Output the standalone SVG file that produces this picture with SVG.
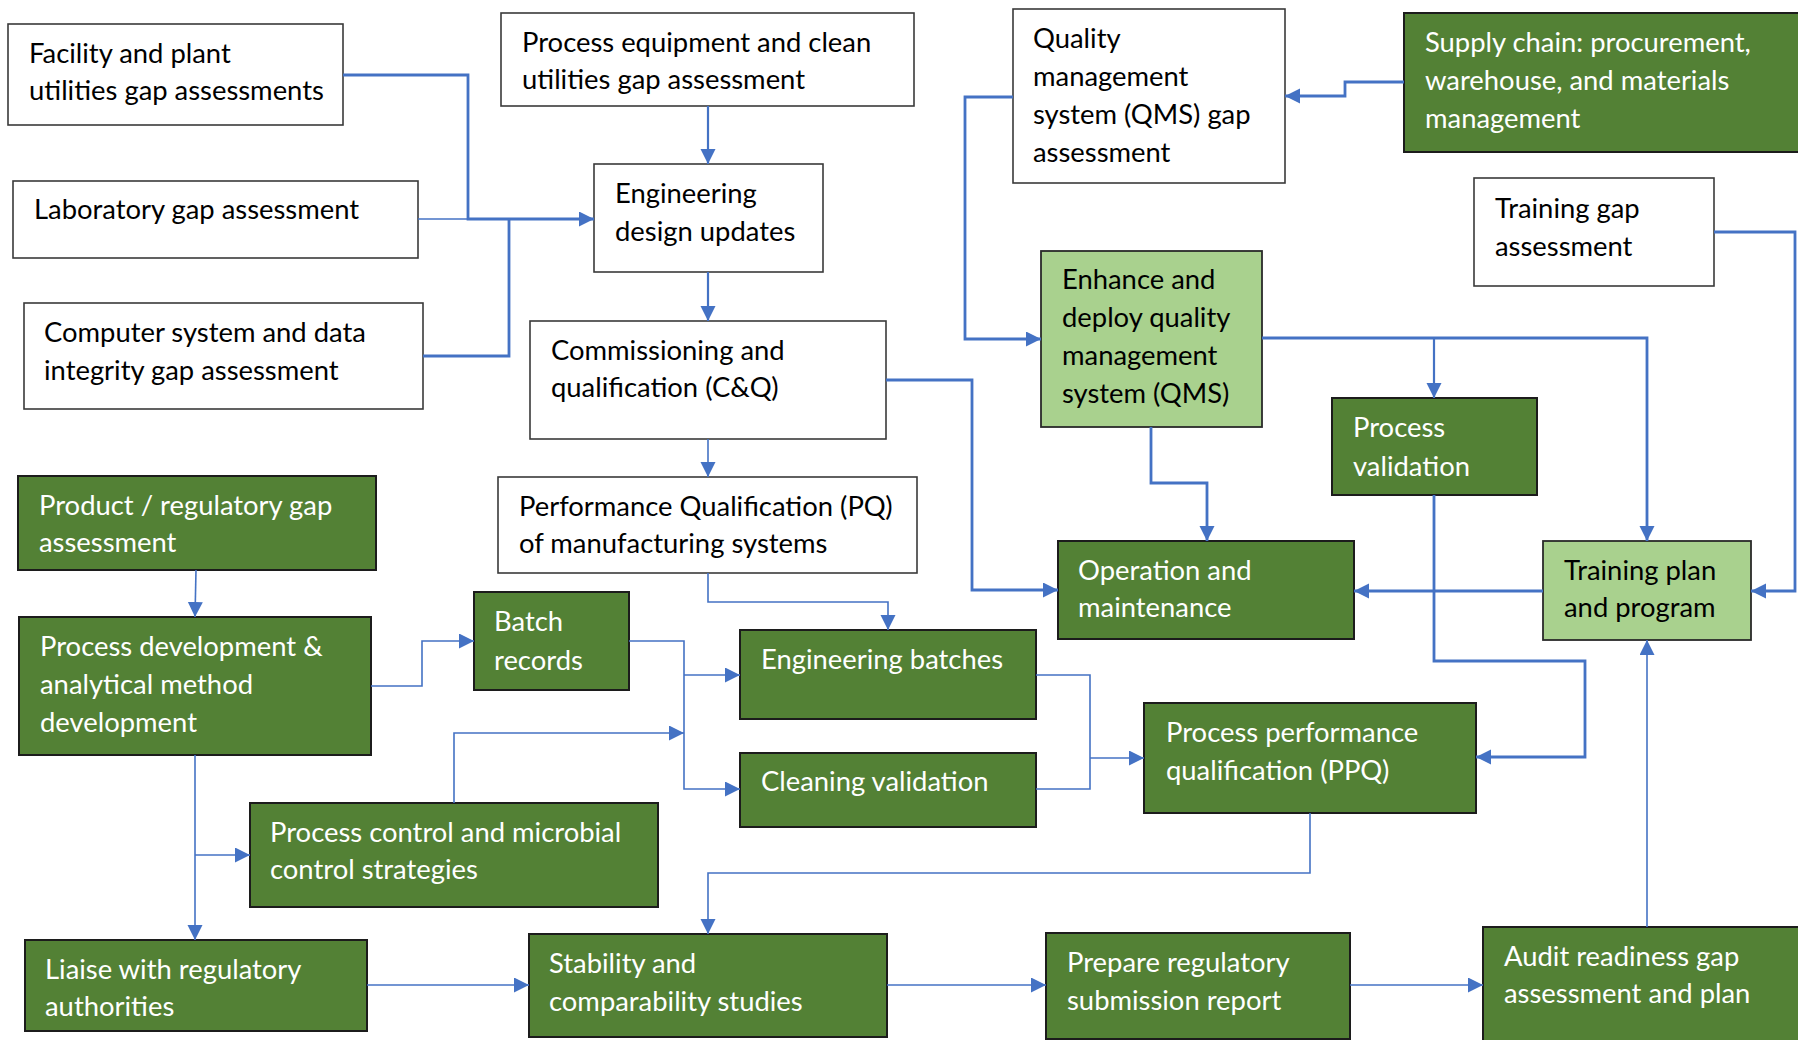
<svg xmlns="http://www.w3.org/2000/svg" width="1798" height="1040" viewBox="0 0 1798 1040">
  <style>
    .bw { fill: #ffffff; stroke: #3a3a3a; stroke-width: 1.6; }
    .bd { fill: #538135; stroke: #1c1c1c; stroke-width: 2; }
    .bl { fill: #a9d18e; stroke: #2a2a2a; stroke-width: 1.8; }
    text { font-family: Lato, "Open Sans", "Liberation Sans", sans-serif; font-size: 27.4px; fill: #000000; }
    .wt { fill: #ffffff; }
    .c { fill: none; stroke: #4472c4; stroke-linejoin: miter; }
    .k { stroke-width: 2.8; }
    .n { stroke-width: 1.6; }
    .m { stroke-width: 2.2; }
  </style>
  <defs>
    <marker id="arr" markerUnits="userSpaceOnUse" markerWidth="16" markerHeight="16" refX="15" refY="7.5" orient="auto" viewBox="0 0 16 16">
      <path d="M0,0 L15,7.5 L0,15 Z" fill="#4472c4"/>
    </marker>
  </defs>
  <rect width="1798" height="1040" fill="#ffffff"/>

  <!-- gap assessments (top left) -->
  <g id="facility">
    <rect class="bw" x="8" y="24" width="335" height="101"/>
    <text x="29" y="63">Facility and plant</text>
    <text x="29" y="100">utilities gap assessments</text>
  </g>
  <g id="laboratory">
    <rect class="bw" x="13" y="181" width="405" height="77"/>
    <text x="34" y="219">Laboratory gap assessment</text>
  </g>
  <g id="computer">
    <rect class="bw" x="24" y="303" width="399" height="106"/>
    <text x="44" y="342">Computer system and data</text>
    <text x="44" y="380">integrity gap assessment</text>
  </g>
  <g id="process-equipment">
    <rect class="bw" x="501" y="13" width="413" height="93"/>
    <text x="522" y="52">Process equipment and clean</text>
    <text x="522" y="89">utilities gap assessment</text>
  </g>
  <g id="engineering-design">
    <rect class="bw" x="594" y="164" width="229" height="108"/>
    <text x="615" y="203">Engineering</text>
    <text x="615" y="241">design updates</text>
  </g>
  <g id="cq">
    <rect class="bw" x="530" y="321" width="356" height="118"/>
    <text x="551" y="360">Commissioning and</text>
    <text x="551" y="397">qualification (C&amp;Q)</text>
  </g>
  <g id="pq">
    <rect class="bw" x="498" y="477" width="419" height="96"/>
    <text x="519" y="516">Performance Qualification (PQ)</text>
    <text x="519" y="553">of manufacturing systems</text>
  </g>

  <!-- quality, supply and training (top right) -->
  <g id="qms-gap">
    <rect class="bw" x="1013" y="9" width="272" height="174"/>
    <text x="1033" y="48">Quality</text>
    <text x="1033" y="86">management</text>
    <text x="1033" y="124">system (QMS) gap</text>
    <text x="1033" y="162">assessment</text>
  </g>
  <g id="supply-chain">
    <rect class="bd" x="1404" y="13" width="400" height="139"/>
    <text class="wt" x="1425" y="52">Supply chain: procurement,</text>
    <text class="wt" x="1425" y="90">warehouse, and materials</text>
    <text class="wt" x="1425" y="128">management</text>
  </g>
  <g id="training-gap">
    <rect class="bw" x="1474" y="178" width="240" height="108"/>
    <text x="1495" y="218">Training gap</text>
    <text x="1495" y="256">assessment</text>
  </g>
  <g id="enhance-qms">
    <rect class="bl" x="1041" y="251" width="221" height="176"/>
    <text x="1062" y="289">Enhance and</text>
    <text x="1062" y="327">deploy quality</text>
    <text x="1062" y="365">management</text>
    <text x="1062" y="403">system (QMS)</text>
  </g>
  <g id="process-validation">
    <rect class="bd" x="1332" y="398" width="205" height="97"/>
    <text class="wt" x="1353" y="437">Process</text>
    <text class="wt" x="1353" y="476">validation</text>
  </g>
  <g id="operation-maintenance">
    <rect class="bd" x="1058" y="541" width="296" height="98"/>
    <text class="wt" x="1078" y="580">Operation and</text>
    <text class="wt" x="1078" y="617">maintenance</text>
  </g>
  <g id="training-plan">
    <rect class="bl" x="1543" y="541" width="208" height="99"/>
    <text x="1564" y="580">Training plan</text>
    <text x="1564" y="617">and program</text>
  </g>

  <!-- product and process development (lower half) -->
  <g id="product-regulatory">
    <rect class="bd" x="18" y="476" width="358" height="94"/>
    <text class="wt" x="39" y="515">Product / regulatory gap</text>
    <text class="wt" x="39" y="552">assessment</text>
  </g>
  <g id="process-development">
    <rect class="bd" x="19" y="617" width="352" height="138"/>
    <text class="wt" x="40" y="656">Process development &amp;</text>
    <text class="wt" x="40" y="694">analytical method</text>
    <text class="wt" x="40" y="732">development</text>
  </g>
  <g id="batch-records">
    <rect class="bd" x="474" y="592" width="155" height="98"/>
    <text class="wt" x="494" y="631">Batch</text>
    <text class="wt" x="494" y="670">records</text>
  </g>
  <g id="process-control">
    <rect class="bd" x="250" y="803" width="408" height="104"/>
    <text class="wt" x="270" y="842">Process control and microbial</text>
    <text class="wt" x="270" y="879">control strategies</text>
  </g>
  <g id="engineering-batches">
    <rect class="bd" x="740" y="630" width="296" height="89"/>
    <text class="wt" x="761" y="669">Engineering batches</text>
  </g>
  <g id="cleaning-validation">
    <rect class="bd" x="740" y="753" width="296" height="74"/>
    <text class="wt" x="761" y="791">Cleaning validation</text>
  </g>
  <g id="ppq">
    <rect class="bd" x="1144" y="703" width="332" height="110"/>
    <text class="wt" x="1166" y="742">Process performance</text>
    <text class="wt" x="1166" y="780">qualification (PPQ)</text>
  </g>
  <g id="liaise">
    <rect class="bd" x="25" y="940" width="342" height="91"/>
    <text class="wt" x="45" y="979">Liaise with regulatory</text>
    <text class="wt" x="45" y="1016">authorities</text>
  </g>
  <g id="stability">
    <rect class="bd" x="529" y="934" width="358" height="103"/>
    <text class="wt" x="549" y="973">Stability and</text>
    <text class="wt" x="549" y="1011">comparability studies</text>
  </g>
  <g id="regulatory-report">
    <rect class="bd" x="1046" y="933" width="304" height="106"/>
    <text class="wt" x="1067" y="972">Prepare regulatory</text>
    <text class="wt" x="1067" y="1010">submission report</text>
  </g>
  <g id="audit-readiness">
    <rect class="bd" x="1483" y="927" width="330" height="130"/>
    <text class="wt" x="1504" y="966">Audit readiness gap</text>
    <text class="wt" x="1504" y="1003">assessment and plan</text>
  </g>

  <!-- connectors -->
  <g id="connectors">
    <path class="c k" d="M343,75 H468 V219 H594" marker-end="url(#arr)"/>
    <path class="c n" d="M418,219 H468"/>
    <path class="c k" d="M423,356 H509 V219"/>
    <path class="c m" d="M708,106 V164" marker-end="url(#arr)"/>
    <path class="c m" d="M708,272 V321" marker-end="url(#arr)"/>
    <path class="c k" d="M886,380 H972 V590 H1058" marker-end="url(#arr)"/>
    <path class="c n" d="M708,439 V477" marker-end="url(#arr)"/>
    <path class="c k" d="M1013,97 H965 V339 H1041" marker-end="url(#arr)"/>
    <path class="c k" d="M1404,82 H1345 V96 H1285" marker-end="url(#arr)"/>
    <path class="c k" d="M1714,232 H1795 V591 H1751" marker-end="url(#arr)"/>
    <path class="c k" d="M1262,338 H1647 V541" marker-end="url(#arr)"/>
    <path class="c m" d="M1434,338 V398" marker-end="url(#arr)"/>
    <path class="c k" d="M1151,427 V483 H1207 V541" marker-end="url(#arr)"/>
    <path class="c k" d="M1543,591 H1354" marker-end="url(#arr)"/>
    <path class="c k" d="M1434,495 V661 H1585 V757 H1476" marker-end="url(#arr)"/>
    <path class="c n" d="M1647,927 V640" marker-end="url(#arr)"/>
    <path class="c n" d="M1350,985 H1483" marker-end="url(#arr)"/>
    <path class="c n" d="M887,985 H1046" marker-end="url(#arr)"/>
    <path class="c n" d="M367,985 H529" marker-end="url(#arr)"/>
    <path class="c n" d="M196,570 L195,617" marker-end="url(#arr)"/>
    <path class="c n" d="M195,755 V940" marker-end="url(#arr)"/>
    <path class="c n" d="M195,855 H250" marker-end="url(#arr)"/>
    <path class="c n" d="M371,686 H422 V641 H474" marker-end="url(#arr)"/>
    <path class="c n" d="M629,641 H684 V789 H740" marker-end="url(#arr)"/>
    <path class="c n" d="M684,675 H740" marker-end="url(#arr)"/>
    <path class="c n" d="M454,803 V733 H684" marker-end="url(#arr)"/>
    <path class="c n" d="M708,573 V602 H888 V630" marker-end="url(#arr)"/>
    <path class="c n" d="M1036,675 H1090 V789 H1036"/>
    <path class="c n" d="M1090,758 H1144" marker-end="url(#arr)"/>
    <path class="c n" d="M1310,813 V873 H708 V934" marker-end="url(#arr)"/>
  </g>
</svg>
